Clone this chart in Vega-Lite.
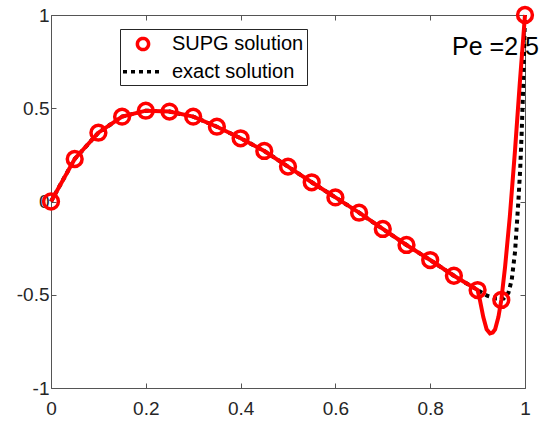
{
  "$schema": "https://vega.github.io/schema/vega-lite/v6.json",
  "autosize": "none",
  "width": 474,
  "height": 373,
  "padding": {"left": 51, "top": 15, "right": 17, "bottom": 35},
  "background": "white",
  "config": {
    "view": {"stroke": "#555555", "strokeWidth": 1},
    "font": "Liberation Sans",
    "axis": {
      "domain": false,
      "grid": false,
      "ticks": true,
      "tickSize": -5,
      "tickColor": "#555555",
      "tickWidth": 1,
      "labelFont": "Liberation Sans",
      "labelFontSize": 19,
      "labelColor": "#262626",
      "title": null
    }
  },
  "datasets": {
    "nodes": [
      {"x": 0, "u": 0},
      {"x": 0.05, "u": 0.228},
      {"x": 0.1, "u": 0.369},
      {"x": 0.15, "u": 0.455},
      {"x": 0.2, "u": 0.487},
      {"x": 0.25, "u": 0.482},
      {"x": 0.3, "u": 0.455},
      {"x": 0.35, "u": 0.401},
      {"x": 0.4, "u": 0.339},
      {"x": 0.45, "u": 0.271},
      {"x": 0.5, "u": 0.187},
      {"x": 0.55, "u": 0.103},
      {"x": 0.6, "u": 0.022},
      {"x": 0.65, "u": -0.06},
      {"x": 0.7, "u": -0.147},
      {"x": 0.75, "u": -0.233},
      {"x": 0.8, "u": -0.314},
      {"x": 0.85, "u": -0.398},
      {"x": 0.9, "u": -0.475},
      {"x": 0.95, "u": -0.528},
      {"x": 1, "u": 1}
    ],
    "supg": [
      {"x": 0, "u": 0},
      {"x": 0.05, "u": 0.228},
      {"x": 0.1, "u": 0.369},
      {"x": 0.15, "u": 0.455},
      {"x": 0.2, "u": 0.487},
      {"x": 0.25, "u": 0.482},
      {"x": 0.3, "u": 0.455},
      {"x": 0.35, "u": 0.401},
      {"x": 0.4, "u": 0.339},
      {"x": 0.45, "u": 0.271},
      {"x": 0.5, "u": 0.187},
      {"x": 0.55, "u": 0.103},
      {"x": 0.6, "u": 0.022},
      {"x": 0.65, "u": -0.06},
      {"x": 0.7, "u": -0.147},
      {"x": 0.75, "u": -0.233},
      {"x": 0.8, "u": -0.314},
      {"x": 0.85, "u": -0.398},
      {"x": 0.9, "u": -0.475},
      {"x": 0.905, "u": -0.53},
      {"x": 0.912, "u": -0.62},
      {"x": 0.919, "u": -0.685},
      {"x": 0.926, "u": -0.707},
      {"x": 0.932, "u": -0.702},
      {"x": 0.937, "u": -0.685},
      {"x": 0.944, "u": -0.618},
      {"x": 0.95, "u": -0.528},
      {"x": 0.958, "u": -0.35},
      {"x": 0.968, "u": -0.08},
      {"x": 0.979, "u": 0.276},
      {"x": 0.989, "u": 0.634},
      {"x": 1, "u": 1}
    ],
    "exact": [
      {"x": 0, "u": 0},
      {"x": 0.05, "u": 0.228},
      {"x": 0.1, "u": 0.369},
      {"x": 0.15, "u": 0.455},
      {"x": 0.2, "u": 0.487},
      {"x": 0.25, "u": 0.482},
      {"x": 0.3, "u": 0.455},
      {"x": 0.35, "u": 0.401},
      {"x": 0.4, "u": 0.339},
      {"x": 0.45, "u": 0.271},
      {"x": 0.5, "u": 0.187},
      {"x": 0.55, "u": 0.103},
      {"x": 0.6, "u": 0.022},
      {"x": 0.65, "u": -0.06},
      {"x": 0.7, "u": -0.147},
      {"x": 0.75, "u": -0.233},
      {"x": 0.8, "u": -0.314},
      {"x": 0.85, "u": -0.398},
      {"x": 0.9, "u": -0.475},
      {"x": 0.92, "u": -0.505},
      {"x": 0.94, "u": -0.52},
      {"x": 0.955, "u": -0.52},
      {"x": 0.965, "u": -0.49},
      {"x": 0.972, "u": -0.42},
      {"x": 0.979, "u": -0.27},
      {"x": 0.986, "u": 0.0},
      {"x": 0.99, "u": 0.18},
      {"x": 0.993, "u": 0.37},
      {"x": 0.996, "u": 0.6},
      {"x": 0.998, "u": 0.81},
      {"x": 1, "u": 1}
    ],
    "note": [{"label": "Pe =2.5"}]
  },
  "resolve": {"axis": {"x": "independent", "y": "independent"}},
  "layer": [
    {
      "data": {"name": "exact"},
      "mark": {"type": "line", "color": "#000000", "strokeWidth": 4, "strokeDash": [4, 4], "clip": false},
      "encoding": {
        "x": {"field": "x", "type": "quantitative",
              "scale": {"domain": [0, 1], "nice": false, "zero": false},
              "axis": {"orient": "bottom", "values": [0, 0.2, 0.4, 0.6, 0.8, 1], "labelExpr": "toString(datum.value)", "labelFlush": false, "labelPadding": 16}},
        "y": {"field": "u", "type": "quantitative",
              "scale": {"domain": [-1, 1], "nice": false, "zero": false},
              "axis": {"orient": "left", "values": [-1, -0.5, 0, 0.5, 1], "labelExpr": "toString(datum.value)", "labelPadding": 7}}
      }
    },
    {
      "data": {"name": "note"},
      "mark": {"type": "text", "fontSize": 25, "font": "Liberation Sans", "align": "left", "baseline": "alphabetic", "color": "#000000"},
      "encoding": {
        "text": {"field": "label", "type": "nominal"},
        "x": {"datum": 0.846, "type": "quantitative", "axis": null},
        "y": {"datum": 0.785, "type": "quantitative", "axis": null}
      }
    },
    {
      "data": {"name": "supg"},
      "mark": {"type": "line", "color": "#ff0000", "strokeWidth": 4, "clip": false},
      "encoding": {
        "x": {"field": "x", "type": "quantitative", "axis": null},
        "y": {"field": "u", "type": "quantitative", "axis": null}
      }
    },
    {
      "data": {"name": "nodes"},
      "mark": {"type": "point", "shape": "circle", "filled": false, "size": 219, "strokeWidth": 3.5, "opacity": 1, "clip": false},
      "encoding": {
        "x": {"field": "x", "type": "quantitative",
              "axis": {"orient": "top", "values": [0, 0.2, 0.4, 0.6, 0.8, 1], "labels": false}},
        "y": {"field": "u", "type": "quantitative",
              "axis": {"orient": "right", "values": [-1, -0.5, 0, 0.5, 1], "labels": false}},
        "color": {
          "datum": "SUPG solution",
          "type": "nominal",
          "scale": {"domain": ["SUPG solution", "exact solution"], "range": ["#ff0000", "#000000"]},
          "legend": {
            "title": null,
            "orient": "none",
            "legendX": 69,
            "legendY": 14,
            "padding": 3,
            "rowPadding": 2.7,
            "symbolSize": 400,
            "symbolStrokeWidth": 3.5,
            "symbolType": {"expr": "datum.value === 'exact solution' ? 'M-2,0L2,0' : 'M0.56,0A0.56,0.56,0,1,1,-0.56,0A0.56,0.56,0,1,1,0.56,0Z'"},
            "symbolDash": {"expr": "datum.value === 'exact solution' ? [4, 4] : [1, 0]"},
            "symbolOffset": 8,
            "labelOffset": 17,
            "labelFont": "Liberation Sans",
            "labelFontSize": 20,
            "labelColor": "#000000",
            "strokeColor": "#262626",
            "fillColor": "#ffffff"
          }
        }
      }
    }
  ]
}
